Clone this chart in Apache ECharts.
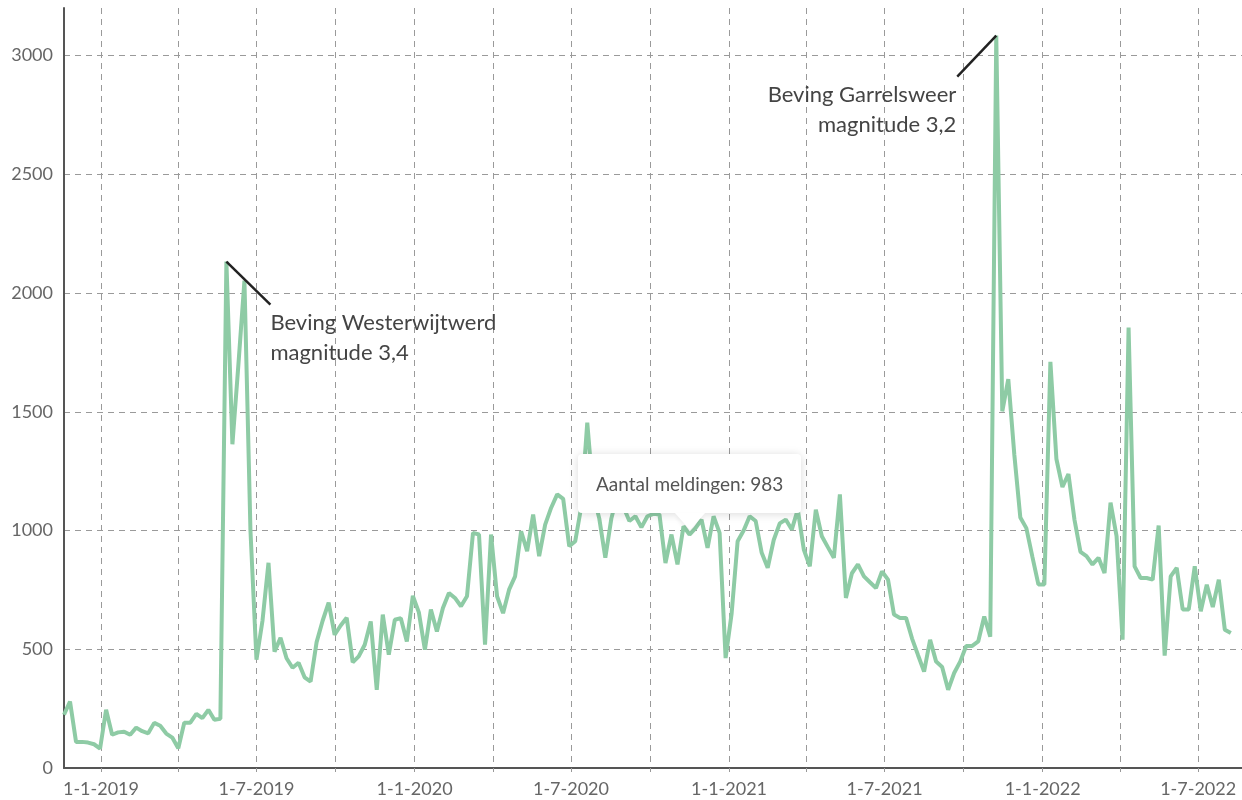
<!DOCTYPE html>
<html>
<head>
<meta charset="utf-8">
<script src="https://cdn.jsdelivr.net/npm/echarts@6/dist/echarts.min.js"></script>
<style>
  html, body { margin: 0; padding: 0; background: #fff; }
  #chart { width: 1242px; height: 800px; }
  .meldingen-tip::after {
    content: '';
    position: absolute;
    left: 50%;
    bottom: -17px;
    margin-left: -15px;
    border-left: 15px solid transparent;
    border-right: 15px solid transparent;
    border-top: 17px solid #fff;
    filter: drop-shadow(0 3px 2px rgba(0,0,0,0.07));
  }
</style>
</head>
<body>
<div id="chart"></div>
<script>
  // eerste week (maandag 19-11-2018), daarna elke week een meting
  const firstWeek = [2018, 10, 19]
  const meldingen = [
    224, 280, 110, 110, 107, 100, 82, 245, 140, 150, 153, 140, 170, 155, 146, 190, 178, 145, 128, 83,
    191, 191, 228, 210, 245, 203, 207, 2132, 1363, 1700, 2052, 1000, 456, 620, 864, 490, 548, 462, 422, 443,
    382, 364, 530, 620, 696, 561, 600, 633, 445, 470, 519, 617, 329, 646, 477, 624, 631, 533, 725, 655,
    498, 667, 575, 674, 737, 716, 681, 723, 990, 983, 519, 983, 723, 652, 751, 807, 997, 913, 1067, 892,
    1025, 1096, 1152, 1133, 934, 955, 1100, 1454, 1150, 1050, 885, 1050, 1150, 1100, 1040, 1060, 1013, 1060, 1070, 1067,
    863, 983, 857, 1018, 983, 1010, 1046, 927, 1060, 990, 463, 650, 955, 1000, 1060, 1040, 906, 843, 960, 1030,
    1046, 1004, 1088, 920, 849, 1088, 976, 930, 885, 1152, 716, 820, 857, 807, 782, 758, 828, 793, 646, 632,
    632, 545, 475, 406, 540, 448, 425, 329, 400, 448, 514, 514, 533, 638, 553, 3084, 1502, 1637, 1320, 1055,
    1010, 890, 773, 773, 1710, 1301, 1183, 1238, 1046, 910, 892, 857, 885, 821, 1117, 976, 540, 1855, 849, 800,
    800, 793, 1021, 473, 807, 843, 667, 667, 849, 660, 772, 678, 793, 582, 568
  ]
  const lastAxisDay = [2022, 7, 21]
  const yMax = 3200
  const yStep = 500
  const tooltipIndex = 104

  // bevingen die in de grafiek benoemd worden
  const bevingen = [
    { index: 27, text: 'Beving Westerwijtwerd\nmagnitude 3,4', side: 'right' },
    { index: 155, text: 'Beving Garrelsweer\nmagnitude 3,2', side: 'left' }
  ]

  const weeks = meldingen.map((v, i) => new Date(firstWeek[0], firstWeek[1], firstWeek[2] + 7 * i).getTime())
  const seriesData = meldingen.map((v, i) => [weeks[i], v])

  const fontFamily = 'Lato, "Noto Sans", sans-serif'
  const chart = echarts.init(document.getElementById('chart'))
  const dayMs = 24 * 3600 * 1000
  const gridLine = { color: '#9a9a9a', type: [6, 5], width: 1 }

  const option = {
    animation: false,
    textStyle: { fontFamily: fontFamily },
    grid: { left: 64, right: 0, top: 8, bottom: 32 },
    tooltip: {
      trigger: 'item',
      triggerOn: 'none',
      alwaysShowContent: true,
      transitionDuration: 0,
      className: 'meldingen-tip',
      position: function (point, params, dom, rect, size) {
        return [point[0] - size.contentSize[0] / 2, point[1] - size.contentSize[1] - 22]
      },
      backgroundColor: '#fff',
      borderWidth: 0,
      padding: [17, 18],
      textStyle: { color: '#555', fontSize: 19, lineHeight: 25, fontFamily: fontFamily },
      extraCssText: 'box-shadow: 0 1px 10px rgba(0,0,0,0.15); border-radius: 4px;',
      formatter: function (p) {
        return 'Aantal meldingen: ' + p.value[1]
      }
    },
    xAxis: {
      type: 'time',
      min: weeks[0],
      max: new Date(lastAxisDay[0], lastAxisDay[1], lastAxisDay[2]).getTime(),
      minInterval: 91 * dayMs,
      maxInterval: 91 * dayMs,
      axisLine: { lineStyle: { color: '#555', width: 2 } },
      axisTick: { show: true, length: 4, lineStyle: { color: '#999', type: 'dashed' } },
      axisLabel: {
        color: '#666',
        fontSize: 18,
        margin: 12,
        formatter: function (val) {
          const d = new Date(val)
          const m = d.getMonth()
          if (d.getDate() === 1 && (m === 0 || m === 6)) {
            return '1-' + (m + 1) + '-' + d.getFullYear()
          }
          return ''
        }
      },
      splitLine: { show: true, showMaxLine: false, lineStyle: gridLine }
    },
    yAxis: {
      type: 'value',
      min: 0,
      max: yMax,
      interval: yStep,
      axisLine: { show: true, lineStyle: { color: '#555', width: 2 } },
      axisTick: { show: false },
      axisLabel: {
        color: '#666',
        fontSize: 18,
        margin: 11,
        showMaxLabel: false,
        formatter: function (v) { return String(v) }
      },
      splitLine: { show: true, showMaxLine: false, lineStyle: gridLine }
    },
    series: [{
      type: 'line',
      data: seriesData,
      showSymbol: true,
      symbol: 'circle',
      symbolSize: 2,
      itemStyle: { color: '#8ecba5', opacity: 0 },
      lineStyle: { color: '#8ecba5', width: 4 },
      emphasis: { disabled: true }
    }]
  }
  chart.setOption(option)

  // lijntjes + teksten bij de bevingen
  const graphics = []
  bevingen.forEach(b => {
    const p = chart.convertToPixel({ xAxisIndex: 0, yAxisIndex: 0 }, [weeks[b.index], meldingen[b.index]])
    const right = b.side === 'right'
    const end = right ? [p[0] + 44, p[1] + 43] : [p[0] - 39, p[1] + 41]
    graphics.push({
      type: 'line',
      shape: { x1: p[0], y1: p[1], x2: end[0], y2: end[1] },
      style: { stroke: '#222', lineWidth: 2.5 },
      z: 10
    })
    graphics.push({
      type: 'text',
      x: right ? end[0] : end[0] - 1,
      y: end[1] + 3,
      style: {
        text: b.text,
        fill: '#444',
        font: '22px ' + fontFamily,
        lineHeight: 30,
        align: right ? 'left' : 'right',
        verticalAlign: 'top'
      },
      z: 10
    })
  })
  chart.setOption({ graphic: graphics })

  chart.dispatchAction({ type: 'showTip', seriesIndex: 0, dataIndex: tooltipIndex })
</script>
</body>
</html>
